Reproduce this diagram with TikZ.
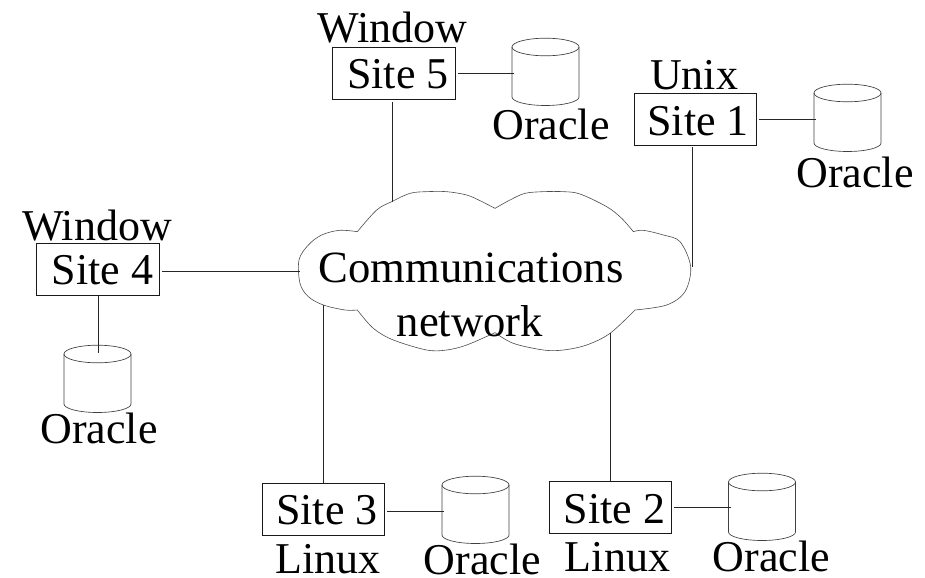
\documentclass[tikz,border=0pt]{standalone}
\usepackage{fontspec}
\setmainfont{Liberation Serif}
\tikzset{
 sitebox/.style={draw,line width=0.65pt,black!90,text=black,minimum width=92pt,inner sep=0pt,text height=31.2pt,text depth=7.8pt,font=\fontsize{33}{33}\selectfont},
 lab/.style={font=\fontsize{33}{33}\selectfont,inner sep=0pt,anchor=base},
 netlab/.style={font=\fontsize{33.5}{33.5}\selectfont,inner sep=0pt,anchor=base},
 conn/.style={line width=0.75pt,black!85},
 rimline/.style={line width=0.5pt,black!75},
 cloudline/.style={line width=0.45pt,black!70}
}
\newcommand{\cyl}[3]{%
 \begin{scope}[shift={(#2,#3)},rimline]
 \draw[name=#1] (-33.5,0) -- (-33.5,50) arc[x radius=33.5,y radius=8.5,start angle=180,end angle=0] -- (33.5,0);
 \draw (0,0) ellipse[x radius=33.5,y radius=8.8];
 \end{scope}}
\begin{document}
\begin{tikzpicture}[x=0.75pt,y=-0.75pt]
\useasboundingbox (0,0) rectangle (925,578);
% cloud
\begin{scope}[shift={(280,170)},x=0.25pt,y=-0.25pt]
\draw[cloudline] plot[smooth,tension=0.55] coordinates {(232,185)(290,120)(335,95)(390,70)(440,65)(500,65)(560,75)(600,92)(645,115)}
 -- plot[smooth,tension=0.55] coordinates {(645,115)(690,90)(735,70)(790,65)(850,65)(900,72)(980,110)(1025,145)(1060,185)}
 -- plot[smooth,tension=0.55] coordinates {(1060,185)(1090,181)(1150,195)(1200,215)(1232,290)(1215,365)(1160,405)(1065,420)}
 -- plot[smooth,tension=0.55] coordinates {(1065,420)(990,490)(920,525)(850,540)(790,540)(700,520)(645,488)}
 -- plot[smooth,tension=0.55] coordinates {(645,488)(560,525)(500,540)(440,540)(340,510)(280,475)(232,420)}
 -- plot[smooth,tension=0.55] coordinates {(232,420)(195,420)(130,405)(85,380)(60,340)(57,270)(85,225)(125,195)(178,181)(232,185)};
\end{scope}
% sites
\node[sitebox] (s5) at (394,73) {\hspace*{6pt}Site 5};
\node[sitebox] (s1) at (695.5,119.5) {\hspace*{4pt}Site 1};
\node[sitebox] (s4) at (98,269) {\hspace*{7pt}Site 4};
\node[sitebox] (s3) at (323.5,509) {\hspace*{5pt}Site 3};
\node[sitebox] (s2) at (610.5,507.5) {\hspace*{6pt}Site 2};
% labels
\node[lab] (w5) at (392.5,42) {Window};
\node[lab] (u1) at (694,89) {Unix};
\node[lab] (w4) at (97,240) {Window};
\node[lab] (l3) at (328,573) {Linux};
\node[lab] (l2) at (617.5,571) {Linux};
\node[lab] (o5) at (551,139) {Oracle};
\node[lab] (o1) at (855,187) {Oracle};
\node[lab] (o4) at (99,443) {Oracle};
\node[lab] (o3) at (482.5,574) {Oracle};
\node[lab] (o2) at (771.5,571) {Oracle};
\node[netlab] (n1) at (471,282) {Communications};
\node[netlab] (n2) at (470,336) {network};
% cylinders
\cyl{d5}{545.5}{47}
\cyl{d1}{847.5}{93}
\cyl{d4}{97.5}{354}
\cyl{d3}{475.5}{485}
\cyl{d2}{762}{482}
% free ends
\coordinate (c5) at (514,73); \coordinate (c1) at (816,119); \coordinate (c4) at (98,353);
\coordinate (c3) at (444,511); \coordinate (c2) at (731,507);
\coordinate (e5) at (392,202); \coordinate (e1) at (692,267); \coordinate (e4) at (300,271);
\coordinate (e3) at (323,305); \coordinate (e2) at (610,333);
% connectors
\draw[conn,shorten <=1.5pt] (s5.east |- c5) -- (c5);
\draw[conn,shorten <=1pt] (s1.east |- c1) -- (c1);
\draw[conn] (s4.south -| c4) -- (c4);
\draw[conn,shorten <=1.5pt] (s3.east |- c3) -- (c3);
\draw[conn,shorten <=1pt] (s2.east |- c2) -- (c2);
\draw[conn,shorten <=2pt] (s5.south -| e5) -- (e5);
\draw[conn,shorten <=1pt] (s1.south -| e1) -- (e1);
\draw[conn,shorten <=1.5pt] (s4.east |- e4) -- (e4);
\draw[conn] (s3.north -| e3) -- (e3);
\draw[conn] (s2.north -| e2) -- (e2);
\end{tikzpicture}
\end{document}
